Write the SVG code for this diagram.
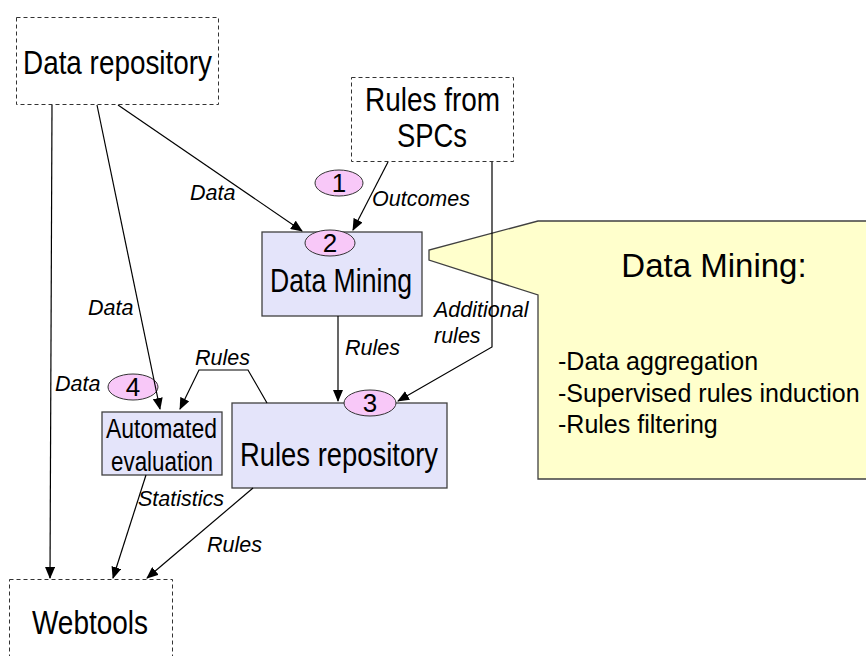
<svg xmlns="http://www.w3.org/2000/svg" width="866" height="656" viewBox="0 0 866 656">
<style>
.dash{fill:#fff;stroke:#333;stroke-width:1;stroke-dasharray:4,3}
.box{fill:#e4e4fa;stroke:#404040;stroke-width:1.3}
.num{fill:#f8c8f8;stroke:#333;stroke-width:1}
.big{font-family:"Liberation Sans",Arial,sans-serif;font-size:34px;fill:#000}
.mid{font-family:"Liberation Sans",Arial,sans-serif;font-size:27px;fill:#000}
.n{font-family:"Liberation Sans",Arial,sans-serif;font-size:26px;fill:#000;text-anchor:middle}
.lab{font-family:"Liberation Sans",Arial,sans-serif;font-size:21.5px;font-style:italic;fill:#000}
.co{font-family:"Liberation Sans",Arial,sans-serif;fill:#000}
.ln{fill:none;stroke:#000;stroke-width:1.2;marker-end:url(#ah)}
</style>
<defs>
<marker id="ah" markerUnits="userSpaceOnUse" markerWidth="12" markerHeight="10" viewBox="0 0 12 10" refX="11" refY="5" orient="auto">
<path d="M0,0 L12,5 L0,10 z" fill="#000"/>
</marker>
</defs>
<rect width="866" height="656" fill="#fff"/>

<g id="callout">
<polygon points="538,221 870,221 870,479 538,479 538,295 429,260 429,250" fill="#ffffcc" stroke="#404040" stroke-width="1.3"/>
<text class="co" x="714" y="277" font-size="33" text-anchor="middle">Data Mining:</text>
<text class="co" x="558" y="370" font-size="25">-Data aggregation</text>
<text class="co" x="558" y="402" font-size="25">-Supervised rules induction</text>
<text class="co" x="558" y="433" font-size="25">-Rules filtering</text>
</g>

<g id="data-repository">
<rect class="dash" x="16.5" y="17.5" width="202" height="87"/>
<text class="big" x="23" y="74" textLength="189" lengthAdjust="spacingAndGlyphs">Data repository</text>
</g>

<g id="rules-from-spcs">
<rect class="dash" x="351.5" y="77.5" width="162" height="84"/>
<text class="big" x="365" y="111" textLength="135" lengthAdjust="spacingAndGlyphs">Rules from</text>
<text class="big" x="397" y="147" textLength="70" lengthAdjust="spacingAndGlyphs">SPCs</text>
</g>

<g id="data-mining">
<rect class="box" x="262" y="232" width="160" height="84"/>
<text class="big" x="270" y="292" textLength="142" lengthAdjust="spacingAndGlyphs">Data Mining</text>
</g>

<g id="rules-repository">
<rect class="box" x="232" y="403" width="215" height="85"/>
<text class="big" x="240" y="466" textLength="198" lengthAdjust="spacingAndGlyphs">Rules repository</text>
</g>

<g id="automated-evaluation">
<rect class="box" x="102" y="412" width="120" height="63"/>
<text class="mid" x="106" y="438" textLength="111" lengthAdjust="spacingAndGlyphs">Automated</text>
<text class="mid" x="111" y="471" textLength="102" lengthAdjust="spacingAndGlyphs">evaluation</text>
</g>

<g id="webtools">
<rect class="dash" x="9.5" y="579.5" width="163" height="90"/>
<text class="big" x="32" y="634" textLength="116" lengthAdjust="spacingAndGlyphs">Webtools</text>
</g>

<g id="step-1">
<ellipse class="num" cx="339" cy="183" rx="24" ry="13"/>
<text class="n" x="339" y="192">1</text>
</g>
<g id="step-2">
<ellipse class="num" cx="330" cy="243" rx="25" ry="13"/>
<text class="n" x="330" y="252">2</text>
</g>
<g id="step-3">
<ellipse class="num" cx="370" cy="403" rx="26" ry="13"/>
<text class="n" x="370" y="412">3</text>
</g>
<g id="step-4">
<ellipse class="num" cx="133" cy="387" rx="25" ry="13"/>
<text class="n" x="133" y="396">4</text>
</g>

<g id="connectors">
<line class="ln" x1="52" y1="105" x2="50" y2="578"/>
<line class="ln" x1="97" y1="105" x2="160" y2="409"/>
<line class="ln" x1="118" y1="105" x2="302" y2="231"/>
<line class="ln" x1="388" y1="162" x2="353" y2="230"/>
<polyline class="ln" points="492,162 492,347 398,401"/>
<line class="ln" x1="338" y1="316" x2="338" y2="401"/>
<polyline class="ln" points="267,403 248,370 199,370 180,409"/>
<line class="ln" x1="146" y1="475" x2="113" y2="578"/>
<line class="ln" x1="253" y1="488" x2="147" y2="578"/>
</g>

<g id="labels">
<text class="lab" x="190" y="200">Data</text>
<text class="lab" x="372" y="206">Outcomes</text>
<text class="lab" x="88" y="315">Data</text>
<text class="lab" x="55" y="391">Data</text>
<text class="lab" x="345" y="355">Rules</text>
<text class="lab" x="434" y="317">Additional</text>
<text class="lab" x="434" y="343">rules</text>
<text class="lab" x="195" y="365">Rules</text>
<text class="lab" x="138" y="506">Statistics</text>
<text class="lab" x="207" y="552">Rules</text>
</g>
</svg>
